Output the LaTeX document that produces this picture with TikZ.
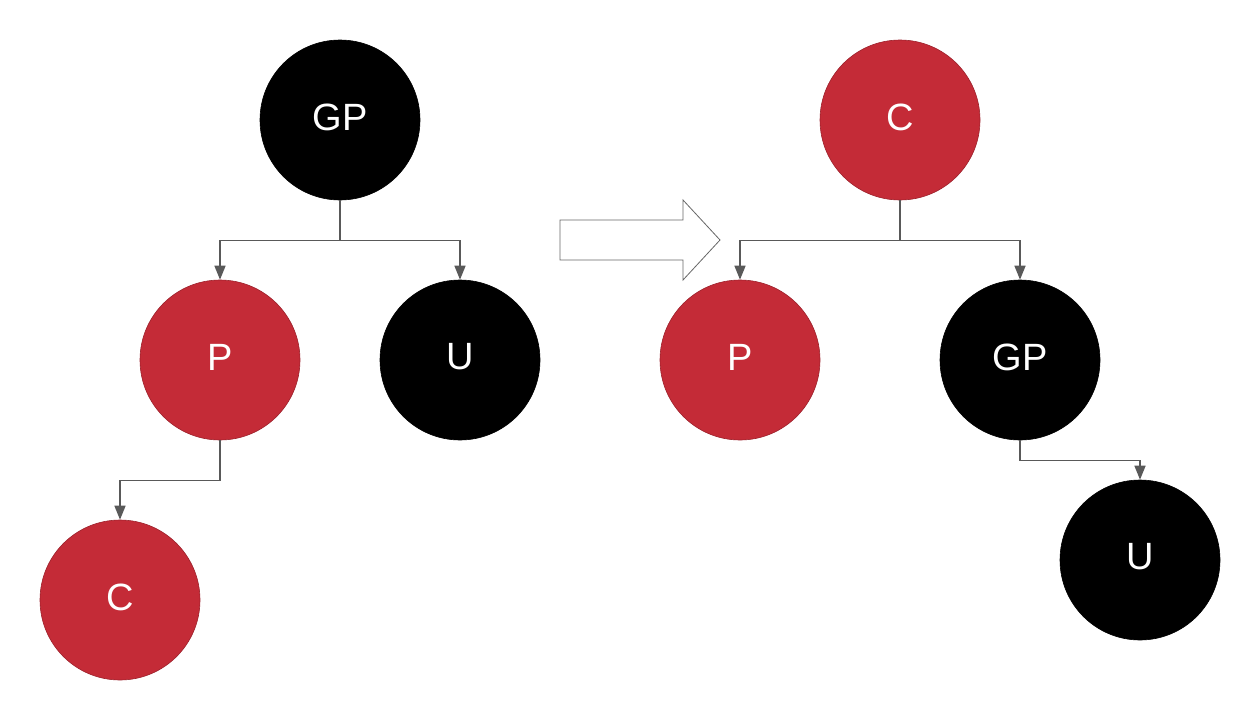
\documentclass[tikz,border=0pt]{standalone}
\usepackage{fontspec}
\setmainfont{Liberation Sans}
\usetikzlibrary{arrows.meta}
\definecolor{rbred}{HTML}{C42B37}
\definecolor{linegray}{HTML}{595959}
\tikzset{
  rbnode/.style={circle, minimum size=160pt, inner sep=0pt, draw=#1!80!black, line width=0.6pt, fill=#1, text=white, font=\fontsize{38}{38}\selectfont},
  redn/.style={rbnode=rbred},
  blackn/.style={rbnode=black},
  lbl/.style={text=white, font=\fontsize{38}{38}\selectfont},
  conn/.style={draw=linegray, line width=1.5pt, -{Triangle[length=14pt,width=11pt]}},
  bigarrow/.style={draw=gray!80!black, line width=0.8pt, fill=white}
}
\begin{document}
\begin{tikzpicture}[x=1pt,y=-1pt]
\useasboundingbox (0,0) rectangle (1260,720);
% left tree
\node[blackn] (gp1) at (340,120) {};
\node[redn]   (p1)  at (220,360) {};
\node[blackn] (u1)  at (460,360) {};
\node[redn]   (c1)  at (120,600) {};
% right tree
\node[redn]   (c2)  at (900,120) {};
\node[redn]   (p2)  at (740,360) {};
\node[blackn] (gp2) at (1020,360) {};
\node[blackn] (u2)  at (1140,560) {};
% labels
\node[lbl] (gp1t) at ([yshift=3pt]gp1.center) {GP};
\node[lbl] (p1t)  at ([yshift=3pt]p1.center) {P};
\node[lbl] (u1t)  at ([yshift=3pt]u1.center) {U};
\node[lbl] (c1t)  at ([yshift=3pt]c1.center) {C};
\node[lbl] (c2t)  at ([yshift=3pt]c2.center) {C};
\node[lbl] (p2t)  at ([yshift=3pt]p2.center) {P};
\node[lbl] (gp2t) at ([yshift=3pt]gp2.center) {GP};
\node[lbl] (u2t)  at ([yshift=3pt]u2.center) {U};
% connectors
\draw[conn] (gp1.south) -- ++(0,40) -| (p1.north);
\draw[conn] (gp1.south) -- ++(0,40) -| (u1.north);
\draw[conn] (p1.south) -- ++(0,40) -| (c1.north);
\draw[conn] (c2.south) -- ++(0,40) -| (p2.north);
\draw[conn] (c2.south) -- ++(0,40) -| (gp2.north);
\draw[conn] (gp2.south) -- ++(0,20) -| (u2.north);
% big arrow
\path[bigarrow] (560,220) -- (683,220) -- (683,200) -- (720,240) -- (683,280) -- (683,260) -- (560,260) -- cycle;
\end{tikzpicture}
\end{document}
